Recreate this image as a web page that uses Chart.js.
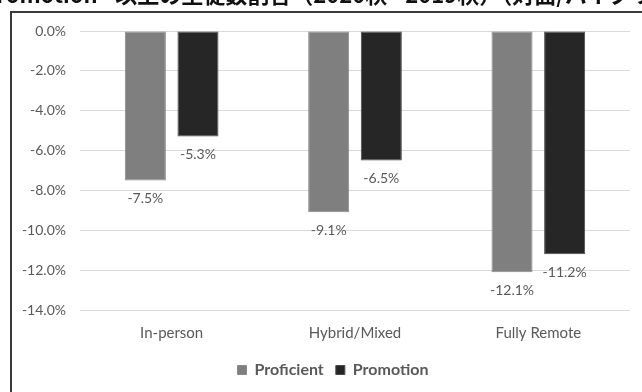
<!DOCTYPE html>
<html>
<head>
<meta charset="utf-8">
<script src="https://cdn.jsdelivr.net/npm/chart.js@4.4.1/dist/chart.umd.min.js"></script>
<style>
  html, body { margin: 0; padding: 0; background: #fff; overflow: hidden; }
  #wrap { position: relative; width: 642px; height: 392px; overflow: hidden; }
  #chart { position: absolute; left: 0; top: 0; }
  /* outer frame runs off the right and bottom edges */
  #frame { position: absolute; left: 10px; top: 11px; width: 700px; height: 500px;
           border: 2px solid #3a3a3a; pointer-events: none; }
  #head { position: absolute; left: -31px; top: -18px; white-space: nowrap;
          font: bold 22px/1 "Noto Sans CJK JP", sans-serif; color: #111; }
</style>
</head>
<body>
<div id="wrap">
  <canvas id="chart" width="642" height="392"></canvas>
  <div id="frame"></div>
  <div id="head">"Promotion" 以上の生徒数割合（2020秋 - 2019秋）（対面/ハイブリッド</div>
</div>
<script>
// 学習形態別の変化（ポイント差）
const categories = ['In-person', 'Hybrid/Mixed', 'Fully Remote'];
const proficient = [-7.5, -9.1, -12.1];
const promotion = [-5.3, -6.5, -11.2];
const seriesNames = ['Proficient', 'Promotion'];
const yMin = -14, yMax = 0, yStep = 2;

const FONT = 'Lato, "Open Sans", sans-serif';
const TEXT_GRAY = '#595959';

function pct(v) { return (Math.abs(v) < 1e-9 ? 0 : v).toFixed(1) + '%'; }

// 値ラベル（棒の下端の外側）
const valueLabels = {
    id: 'valueLabels',
    afterDatasetsDraw(chart) {
        const ctx = chart.ctx;
        ctx.save();
        ctx.font = '14px ' + FONT;
        ctx.fillStyle = TEXT_GRAY;
        ctx.textAlign = 'center';
        ctx.textBaseline = 'middle';
        chart.data.datasets.forEach((ds, i) => {
            chart.getDatasetMeta(i).data.forEach((bar, j) => {
                ctx.fillText(pct(ds.data[j]), bar.x, bar.y + 18);
            });
        });
        ctx.restore();
    }
};

// 凡例をプロット中央寄りに少しずらす
const legendShift = {
    id: 'legendShift',
    afterLayout(chart) {
        if (chart.legend) chart.legend.left += 36;
    }
};

new Chart(document.getElementById('chart'), {
    type: 'bar',
    data: {
        labels: categories,
        datasets: [
            { label: seriesNames[0], data: proficient, backgroundColor: '#7f7f7f',
              borderColor: '#8a8a8a', borderWidth: 1, borderSkipped: false },
            { label: seriesNames[1], data: promotion, backgroundColor: '#262626',
              borderColor: '#4a4a4a', borderWidth: 1, borderSkipped: false }
        ]
    },
    options: {
        responsive: false,
        animation: false,
        categoryPercentage: 0.574,
        barPercentage: 0.78,
        layout: { padding: { top: 31, right: 12, left: 0, bottom: 4 } },
        plugins: {
            legend: {
                position: 'bottom',
                labels: {
                    boxWidth: 9, boxHeight: 9, padding: 12,
                    color: TEXT_GRAY,
                    font: { family: FONT, size: 16, weight: 'bold' }
                }
            },
            tooltip: { enabled: false }
        },
        scales: {
            x: {
                grid: { display: false },
                border: { display: false },
                ticks: { color: TEXT_GRAY, padding: 6, font: { family: FONT, size: 15 } },
                afterFit(scale) { scale.height = 40; }
            },
            y: {
                min: yMin, max: yMax,
                grid: { color: '#d9d9d9', lineWidth: 1, drawTicks: false },
                border: { display: false },
                ticks: {
                    stepSize: yStep, color: TEXT_GRAY, padding: 14,
                    font: { family: FONT, size: 14 },
                    callback: v => pct(v)
                },
                afterFit(scale) { scale.width = 80; }
            }
        }
    },
    plugins: [valueLabels, legendShift]
});
</script>
</body>
</html>
